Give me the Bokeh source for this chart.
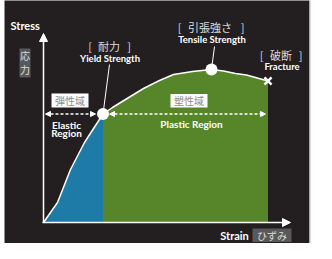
from bokeh.plotting import figure
from bokeh.models import Range1d, Label, Arrow, NormalHead
from bokeh.embed import file_html
from bokeh.resources import INLINE

# ---- data (strain, stress in arbitrary units) ----
elastic_strain = [0.0, 1.4, 2.7, 4.1, 5.2, 5.95]
elastic_stress = [0.0, 2.0, 5.3, 8.0, 9.7, 10.85]
plastic_strain = [5.95, 6.9, 8.2, 10.0, 11.6, 13.0, 14.9, 16.8, 18.0, 19.2, 20.3, 21.2, 22.45]
plastic_stress = [10.85, 11.5, 12.3, 13.4, 14.2, 14.8, 15.1, 15.3, 15.15, 14.9, 14.75, 14.5, 14.15]
yield_pt = (5.95, 10.85)
tensile_pt = (16.8, 15.3)
fracture_pt = (22.45, 14.15)

DARK = "#231f20"
BLUE = "#1e7aa6"
GREEN = "#568629"
GRAY_BOX = "#58595b"
LIGHT = "#dcdcdc"
EN = "Lato"
JP = "Noto Sans CJK JP"

p = figure(width=316, height=243, x_range=Range1d(-4.3, 27.3), y_range=Range1d(-2.1, 22.2),
           output_backend="svg", toolbar_location=None, min_border=0,
           x_axis_type=None, y_axis_type=None)
p.grid.visible = False
p.outline_line_color = None
p.background_fill_color = "white"
p.border_fill_color = "white"

# dark panel
p.quad(left=-3.9, right=26.6, bottom=-3, top=23, fill_color=DARK, line_color=None)
p.segment(x0=26.65, y0=-3, x1=26.65, y1=23, line_color="#c0c0c0", line_width=1)

# regions
p.varea(x=elastic_strain, y1=[0]*len(elastic_strain), y2=elastic_stress, fill_color=BLUE)
p.varea(x=plastic_strain, y1=[0]*len(plastic_strain), y2=plastic_stress, fill_color=GREEN)
p.line(elastic_strain, elastic_stress, line_color="white", line_width=1.5)
p.line(plastic_strain, plastic_stress, line_color="white", line_width=1.5)

# axes with arrows
p.add_layout(Arrow(x_start=-0.1, y_start=0, x_end=24.7, y_end=0, line_color="white", line_width=1.5,
                   end=NormalHead(size=8, fill_color="white", line_color="white")))
p.add_layout(Arrow(x_start=0, y_start=-0.05, x_end=0, y_end=18.9, line_color="white", line_width=1.5,
                   end=NormalHead(size=8, fill_color="white", line_color="white")))

# dashed range arrows
def dashed(x0, x1, y):
    p.add_layout(Arrow(x_start=x0, y_start=y, x_end=x1, y_end=y, line_color="white", line_width=1.5,
                       line_dash="3 2",
                       start=NormalHead(size=5, fill_color="white", line_color="white"),
                       end=NormalHead(size=5, fill_color="white", line_color="white")))
dashed(0.2, 5.2, yield_pt[1])
dashed(6.6, 22.2, yield_pt[1])

# leader lines
p.segment(x0=6.6, y0=15.8, x1=yield_pt[0], y1=yield_pt[1], line_color="white", line_width=1)
p.segment(x0=17.1, y0=17.6, x1=tensile_pt[0], y1=tensile_pt[1], line_color="white", line_width=1)

# key points
p.scatter([yield_pt[0], tensile_pt[0]], [yield_pt[1], tensile_pt[1]], marker="circle", size=12,
          fill_color="white", line_color=None)
p.scatter([fracture_pt[0]], [fracture_pt[1]], marker="x", size=10, line_color="white", line_width=2.5)

# boxes
p.quad(left=-2.4, right=-1.3, bottom=14.5, top=17.4, fill_color=GRAY_BOX, line_color=None)
p.quad(left=20.9, right=24.8, bottom=-1.95, top=-0.6, fill_color=GRAY_BOX, line_color=None)
p.quad(left=0.8, right=4.5, bottom=11.5, top=12.9, fill_color="white", line_color=None)
p.quad(left=12.7, right=16.4, bottom=11.5, top=12.85, fill_color="white", line_color=None)

def lab(x, y, t, font=EN, size="10px", color="white", style="bold", align="center"):
    p.add_layout(Label(x=x, y=y, text=t, text_font=font, text_font_size=size, text_color=color,
                       text_font_style=style, text_align=align, text_baseline="middle"))

def jp_bracket(xl, xc, xr, y, t):
    lab(xl, y, "[", font=JP, size="11px", color=LIGHT, style="normal")
    lab(xc, y, t, font=JP, size="11px", color=LIGHT, style="normal")
    lab(xr, y, "]", font=JP, size="11px", color=LIGHT, style="normal")

lab(-3.3, 19.7, "Stress", size="11px", align="left")
lab(-1.85, 16.7, "応", font=JP, size="10px", color=LIGHT, style="normal")
lab(-1.85, 15.3, "力", font=JP, size="10px", color=LIGHT, style="normal")
jp_bracket(4.67, 6.55, 8.57, 17.7, "耐力")
lab(6.65, 16.4, "Yield Strength", size="9.5px")
jp_bracket(13.6, 16.65, 19.9, 19.6, "引張強さ")
lab(16.85, 18.3, "Tensile Strength", size="9.5px")
jp_bracket(21.8, 23.75, 25.7, 16.8, "破断")
lab(23.85, 15.6, "Fracture", size="9.5px")
lab(2.65, 12.2, "弾性域", font=JP, size="10px", color="#8a8a8a", style="normal")
lab(14.55, 12.17, "塑性域", font=JP, size="10px", color="#8a8a8a", style="normal")
lab(2.3, 9.8, "Elastic", size="10px")
lab(2.3, 8.95, "Region", size="10px")
lab(14.8, 9.9, "Plastic Region", size="10px")
lab(19.1, -1.3, "Strain", size="11px")
lab(22.85, -1.3, "ひずみ", font=JP, size="10px", color=LIGHT, style="normal")

open("out.html", "w").write(file_html(p, INLINE))
